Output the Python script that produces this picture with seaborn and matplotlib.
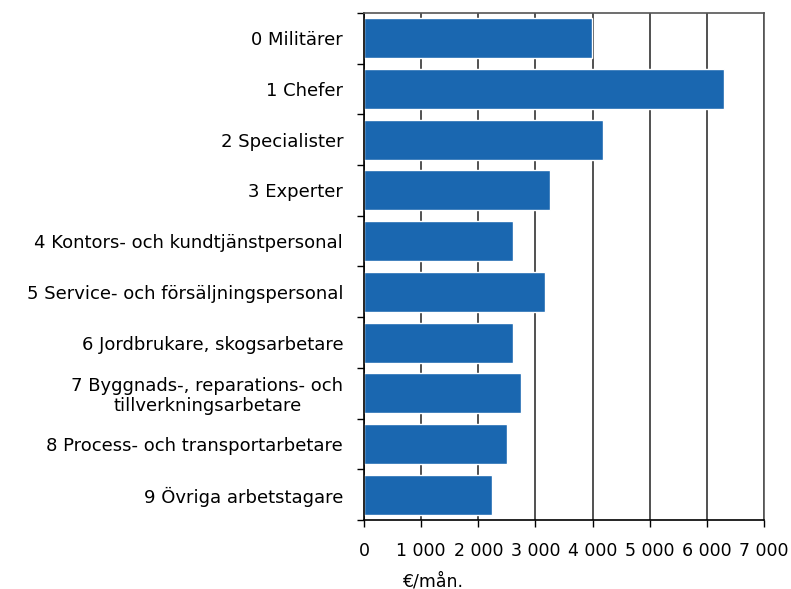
import numpy as np
import pandas as pd
import matplotlib
matplotlib.use('Agg')
import matplotlib.pyplot as plt
import seaborn as sns

# Data
kategorier = ['0 Militärer', '1 Chefer', '2 Specialister', '3 Experter',
              '4 Kontors- och kundtjänstpersonal',
              '5 Service- och försäljningspersonal',
              '6 Jordbrukare, skogsarbetare',
              '7 Byggnads-, reparations- och\ntillverkningsarbetare',
              '8 Process- och transportarbetare',
              '9 Övriga arbetstagare']
lon = [3990, 6305, 4180, 3260, 2610, 3175, 2610, 2750, 2505, 2245]
x_ticks = [0, 1000, 2000, 3000, 4000, 5000, 6000, 7000]
x_labels = ['0', '1 000', '2 000', '3 000', '4 000', '5 000', '6 000', '7 000']

df = pd.DataFrame({'Yrke': kategorier, 'Lon': lon})

sns.set_style('white')
plt.rcParams['font.family'] = ['DejaVu Sans']
plt.rcParams['text.color'] = 'black'
plt.rcParams['xtick.color'] = 'black'
plt.rcParams['ytick.color'] = 'black'

fig = plt.figure(figsize=(7.91, 5.89), dpi=100)
ax = fig.add_axes([364 / 791, 1 - 520 / 589, 400 / 791, 507 / 589])

# Gridlines behind the bars
ax.set_axisbelow(True)
ax.grid(axis='x', color='#333333', linewidth=1.2)

sns.barplot(data=df, x='Lon', y='Yrke', orient='h', color='#1a67b0',
            saturation=1, width=0.79, ax=ax)

ax.set_xlim(0, 7000)
ax.set_xticks(x_ticks)
ax.set_xticklabels(x_labels, fontsize=12.5)
ax.set_xlabel('')
ax.set_ylabel('')

# Category labels, ticks at the boundaries
ax.set_yticks(range(len(kategorier)))
ax.set_yticklabels(kategorier, fontsize=13, multialignment='center',
                   linespacing=1.15)
ax.set_yticks(np.arange(-0.5, len(kategorier), 1), minor=True)
ax.tick_params(axis='y', which='major', length=0, pad=15)
ax.tick_params(axis='y', which='minor', length=5, width=1, color='black', left=True)
ax.tick_params(axis='x', which='major', length=5, width=1, color='black',
               bottom=True, pad=11)

for side in ['left', 'bottom']:
    ax.spines[side].set_color('black')
    ax.spines[side].set_linewidth(1.2)
for side in ['top', 'right']:
    ax.spines[side].set_color('#555555')
    ax.spines[side].set_linewidth(1.2)

fig.text(402 / 791, 1 - 581 / 589, '€/mån.', fontsize=12.5, ha='left', va='center')

fig.savefig('out.png', dpi=100)
